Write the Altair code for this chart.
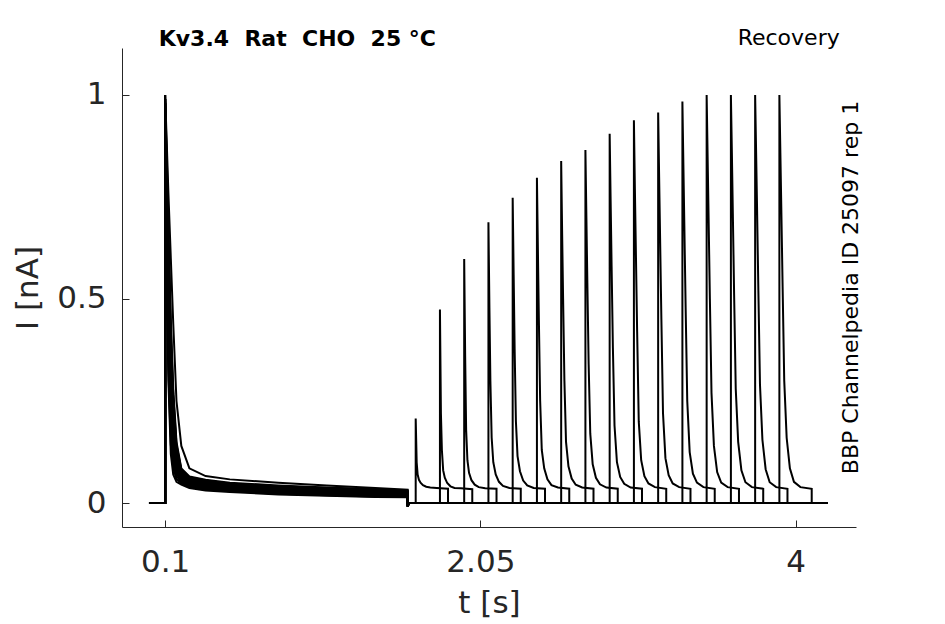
import altair as alt
import pandas as pd

# ---------------- data ----------------
SWEEPS = list(range(16))
T_START = 0.0
T_STEP1_ON = 0.1
T_STEP1_OFF = 1.6
T_TAIL_END = 1.608
TAIL_DIP = -0.008
T_STEP2_ON = [1.65, 1.8, 1.95, 2.1, 2.25, 2.4, 2.55, 2.7, 2.85, 3.0,
              3.15, 3.3, 3.45, 3.6, 3.75, 3.9]
STEP2_DUR = 0.2
T_END = 4.2

# first pulse: time after onset (s) and current (nA) per sweep
OFF1 = [0, 0.01, 0.02, 0.035, 0.05, 0.07, 0.1, 0.15, 0.25, 0.4, 0.7, 1.0, 1.3, 1.5]
PULSE1 = [
    [1.00, 0.600, 0.300, 0.120, 0.070, 0.052, 0.045, 0.037, 0.031, 0.027, 0.021, 0.018, 0.015, 0.014],
    [0.99, 0.618, 0.327, 0.143, 0.085, 0.059, 0.048, 0.039, 0.033, 0.029, 0.023, 0.019, 0.016, 0.015],
    [0.98, 0.636, 0.354, 0.167, 0.100, 0.066, 0.051, 0.041, 0.035, 0.030, 0.024, 0.021, 0.018, 0.016],
    [0.99, 0.654, 0.381, 0.191, 0.115, 0.073, 0.054, 0.043, 0.037, 0.032, 0.026, 0.022, 0.019, 0.018],
    [0.97, 0.672, 0.409, 0.214, 0.130, 0.080, 0.056, 0.045, 0.038, 0.034, 0.027, 0.024, 0.020, 0.019],
    [1.00, 0.689, 0.436, 0.238, 0.145, 0.087, 0.059, 0.047, 0.040, 0.035, 0.029, 0.025, 0.022, 0.020],
    [0.98, 0.707, 0.463, 0.261, 0.160, 0.094, 0.062, 0.049, 0.042, 0.037, 0.030, 0.027, 0.023, 0.021],
    [0.96, 0.725, 0.490, 0.285, 0.175, 0.101, 0.065, 0.051, 0.044, 0.039, 0.032, 0.028, 0.025, 0.023],
    [0.99, 0.743, 0.517, 0.308, 0.190, 0.108, 0.068, 0.053, 0.046, 0.040, 0.034, 0.029, 0.026, 0.024],
    [0.97, 0.761, 0.544, 0.332, 0.205, 0.115, 0.071, 0.055, 0.048, 0.042, 0.035, 0.031, 0.027, 0.025],
    [0.98, 0.779, 0.571, 0.356, 0.220, 0.122, 0.074, 0.057, 0.050, 0.043, 0.037, 0.032, 0.029, 0.026],
    [0.96, 0.796, 0.599, 0.379, 0.235, 0.129, 0.076, 0.059, 0.051, 0.045, 0.038, 0.034, 0.030, 0.027],
    [0.97, 0.814, 0.626, 0.403, 0.250, 0.136, 0.079, 0.061, 0.053, 0.047, 0.040, 0.035, 0.031, 0.029],
    [0.98, 0.832, 0.653, 0.427, 0.265, 0.143, 0.082, 0.063, 0.055, 0.048, 0.041, 0.037, 0.033, 0.030],
    [0.99, 0.850, 0.680, 0.450, 0.280, 0.150, 0.085, 0.065, 0.057, 0.050, 0.043, 0.038, 0.034, 0.031],
    [1.00, 0.880, 0.760, 0.600, 0.440, 0.250, 0.140, 0.085, 0.066, 0.058, 0.050, 0.043, 0.037, 0.033],
]

# second (recovery) pulse: time after onset (s) and current (nA) per sweep
OFF2 = [0, 0.006, 0.012, 0.02, 0.03, 0.045, 0.065, 0.09, 0.13, 0.2]
PULSE2 = [
    [0.207, 0.100, 0.070, 0.057, 0.050, 0.044, 0.040, 0.038, 0.037, 0.035],
    [0.474, 0.220, 0.130, 0.080, 0.062, 0.049, 0.041, 0.037, 0.036, 0.034],
    [0.598, 0.360, 0.180, 0.105, 0.074, 0.056, 0.045, 0.039, 0.036, 0.035],
    [0.688, 0.480, 0.300, 0.160, 0.100, 0.070, 0.052, 0.042, 0.037, 0.035],
    [0.748, 0.560, 0.380, 0.200, 0.115, 0.078, 0.055, 0.043, 0.037, 0.035],
    [0.797, 0.620, 0.450, 0.250, 0.130, 0.085, 0.058, 0.044, 0.038, 0.035],
    [0.838, 0.660, 0.500, 0.300, 0.150, 0.090, 0.060, 0.045, 0.038, 0.035],
    [0.865, 0.700, 0.540, 0.340, 0.170, 0.095, 0.062, 0.046, 0.038, 0.035],
    [0.905, 0.740, 0.580, 0.380, 0.190, 0.100, 0.064, 0.047, 0.038, 0.035],
    [0.938, 0.770, 0.620, 0.420, 0.200, 0.105, 0.066, 0.048, 0.039, 0.035],
    [0.957, 0.800, 0.650, 0.450, 0.220, 0.110, 0.068, 0.048, 0.039, 0.035],
    [0.984, 0.830, 0.680, 0.480, 0.250, 0.125, 0.072, 0.050, 0.039, 0.035],
    [1.000, 0.850, 0.700, 0.500, 0.270, 0.140, 0.076, 0.050, 0.039, 0.035],
    [1.000, 0.860, 0.710, 0.510, 0.280, 0.150, 0.080, 0.051, 0.039, 0.035],
    [1.000, 0.860, 0.720, 0.520, 0.290, 0.155, 0.083, 0.051, 0.039, 0.035],
    [1.000, 0.860, 0.720, 0.530, 0.300, 0.160, 0.085, 0.052, 0.039, 0.035],
]

X_TICKS = [0.1, 2.05, 4]
Y_TICKS = [0, 0.5, 1]
X_DOMAIN = [-0.167, 4.374]
Y_DOMAIN = [-0.0587, 1.115]

NBSP = "\u00a0"
TITLE = f"Kv3.4{NBSP} Rat{NBSP} CHO{NBSP} 25 °C"
PROTOCOL = "Recovery"
SOURCE = "BBP Channelpedia ID 25097 rep 1"

# ---------------- build the table ----------------
rows = []
for s in SWEEPS:
    seq = [(T_START, 0.0), (T_STEP1_ON, 0.0)]
    seq += [(T_STEP1_ON + o, v) for o, v in zip(OFF1, PULSE1[s])]
    seq += [(T_STEP1_OFF, TAIL_DIP), (T_TAIL_END, 0.0), (T_STEP2_ON[s], 0.0)]
    seq += [(T_STEP2_ON[s] + o, v) for o, v in zip(OFF2, PULSE2[s])]
    seq += [(T_STEP2_ON[s] + STEP2_DUR, 0.0), (T_END, 0.0)]
    for i, (t, v) in enumerate(seq):
        rows.append({"sweep": s, "idx": i, "t": t, "I": v})
df = pd.DataFrame(rows)

FONT = "DejaVu Sans"
AX_COL = "#262626"
W, H = 734, 479

x_scale = alt.Scale(domain=X_DOMAIN, nice=False, zero=False)
y_scale = alt.Scale(domain=Y_DOMAIN, nice=False, zero=False)

lines = alt.Chart(df).mark_line(color="black", strokeWidth=2).encode(
    x=alt.X("t:Q", scale=x_scale,
            axis=alt.Axis(orient="bottom", values=X_TICKS, format=".3~g",
                          ticks=False, tickSize=0, grid=False,
                          labelFont=FONT, labelFontSize=31, labelColor=AX_COL,
                          labelPadding=20, domainColor=AX_COL, domainWidth=1,
                          title="t [s]", titleFont=FONT, titleFontSize=31,
                          titleFontWeight="normal", titleColor=AX_COL,
                          titlePadding=11)),
    y=alt.Y("I:Q", scale=y_scale,
            axis=alt.Axis(orient="left", values=Y_TICKS, format=".2~g",
                          ticks=False, tickSize=0, grid=False,
                          labelFont=FONT, labelFontSize=31, labelColor=AX_COL,
                          labelPadding=16, domainColor=AX_COL, domainWidth=1,
                          title="I [nA]", titleFont=FONT, titleFontSize=31,
                          titleFontWeight="normal", titleColor=AX_COL,
                          titlePadding=12)),
    detail="sweep:N",
    order="idx:Q",
)

tick_df = pd.DataFrame({"t": X_TICKS, "I": Y_TICKS})
inward_ticks = alt.Chart(tick_df).mark_point(opacity=0).encode(
    x=alt.X("t:Q", scale=x_scale,
            axis=alt.Axis(orient="top", offset=-H, values=X_TICKS, labels=False,
                          domain=False, grid=False, ticks=True, tickSize=7,
                          tickColor=AX_COL, tickWidth=1, title=None)),
    y=alt.Y("I:Q", scale=y_scale,
            axis=alt.Axis(orient="right", offset=-W, values=Y_TICKS, labels=False,
                          domain=False, grid=False, ticks=True, tickSize=7,
                          tickColor=AX_COL, tickWidth=1, title=None)),
)

title_txt = alt.Chart(pd.DataFrame({"label": [TITLE]})).mark_text(
    font=FONT, fontSize=22, fontWeight="bold", color="black",
    align="left", baseline="alphabetic").encode(
    x=alt.value(36.7), y=alt.value(-2), text="label:N")

proto_txt = alt.Chart(pd.DataFrame({"label": [PROTOCOL]})).mark_text(
    font=FONT, fontSize=22, color="black",
    align="right", baseline="alphabetic").encode(
    x=alt.value(717.7), y=alt.value(-3), text="label:N")

source_txt = alt.Chart(pd.DataFrame({"label": [SOURCE]})).mark_text(
    font=FONT, fontSize=22, color="black", angle=270,
    align="center", baseline="middle").encode(
    x=alt.value(729), y=alt.value(H / 2), text="label:N")

chart = alt.layer(lines, inward_ticks, title_txt, proto_txt, source_txt).properties(
    width=W, height=H,
    autosize=alt.AutoSizeParams(type="none"),
    padding={"left": 114, "top": 40, "right": 60, "bottom": 97},
    background="white",
).configure_view(stroke=None)

chart.save("out.html", embed_options={"renderer": "svg", "actions": False})
